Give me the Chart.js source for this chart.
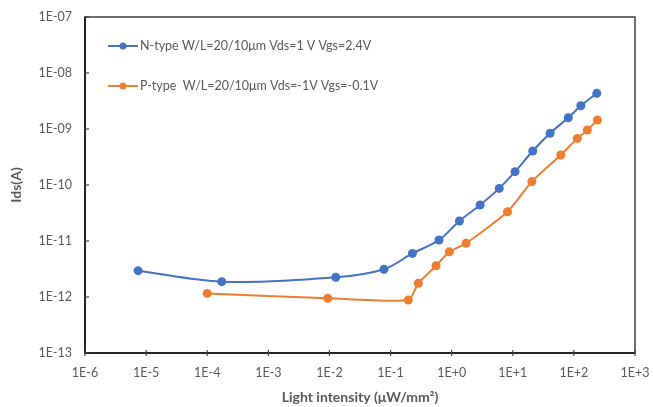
<!DOCTYPE html>
<html>
<head>
<meta charset="utf-8">
<script src="https://cdn.jsdelivr.net/npm/chart.js@4"></script>
<style>
  html, body { margin: 0; padding: 0; background: #fff; }
  #wrap { width: 653px; height: 407px; }
</style>
</head>
<body>
<div id="wrap"><canvas id="chart"></canvas></div>
<script>
// === Data ===
const nLabel = "N-type W/L=20/10\u03bcm Vds=1 V Vgs=2.4V";
const nX = [7.4e-6, 1.73e-4, 1.27e-2, 0.078, 0.228, 0.62, 1.34, 2.92, 6.0, 10.9, 21.2, 40.8, 81, 130, 237];
const nY = [2.95e-12, 1.88e-12, 2.25e-12, 3.13e-12, 6.0e-12, 1.04e-11, 2.28e-11, 4.4e-11, 8.7e-11, 1.73e-10, 4.05e-10, 8.4e-10, 1.59e-9, 2.6e-9, 4.33e-9];

const pLabel = "P-type  W/L=20/10\u03bcm Vds=-1V Vgs=-0.1V";
const pX = [1e-4, 9.4e-3, 0.195, 0.285, 0.556, 0.916, 1.72, 8.2, 20.5, 61, 114, 166, 243];
const pY = [1.16e-12, 9.5e-13, 8.8e-13, 1.76e-12, 3.62e-12, 6.4e-12, 9.1e-12, 3.33e-11, 1.15e-10, 3.43e-10, 6.8e-10, 9.6e-10, 1.45e-9];

// axis ticks (decades only)
const xTicks = [1e-6, 1e-5, 1e-4, 1e-3, 1e-2, 1e-1, 1e0, 1e1, 1e2, 1e3];
const xTickLabels = ["1E-6", "1E-5", "1E-4", "1E-3", "1E-2", "1E-1", "1E+0", "1E+1", "1E+2", "1E+3"];
const yTicks = [1e-13, 1e-12, 1e-11, 1e-10, 1e-9, 1e-8, 1e-7];
const yTickLabels = ["1E-13", "1E-12", "1E-11", "1E-10", "1E-09", "1E-08", "1E-07"];

const BLUE = "#4472c4";
const ORANGE = "#ed7d31";
const GREY = "#595959";

const toPoints = (xs, ys) => xs.map((x, i) => ({ x: x, y: ys[i] }));

// === Plot frame + small crossing tick marks ===
const framePlugin = {
  id: "frame",
  beforeDatasetsDraw(chart) {
    const { ctx, chartArea: a, scales } = chart;
    ctx.save();
    ctx.strokeStyle = "#3f3f3f";
    ctx.lineWidth = 1.5;
    ctx.strokeRect(a.left, a.top, a.right - a.left, a.bottom - a.top);
    ctx.strokeStyle = "#262626";
    ctx.lineWidth = 2;
    ctx.beginPath();
    ctx.moveTo(a.left, a.top);
    ctx.lineTo(a.left, a.bottom);
    ctx.lineTo(a.right, a.bottom);
    ctx.stroke();
    ctx.lineWidth = 1.2;
    ctx.strokeStyle = "#404040";
    xTicks.forEach(v => {
      const px = scales.x.getPixelForValue(v);
      ctx.beginPath();
      ctx.moveTo(px, a.bottom - 3);
      ctx.lineTo(px, a.bottom + 3);
      ctx.stroke();
    });
    yTicks.forEach(v => {
      const py = scales.y.getPixelForValue(v);
      ctx.beginPath();
      ctx.moveTo(a.left - 1, py);
      ctx.lineTo(a.left + 4, py);
      ctx.stroke();
    });
    ctx.restore();
  }
};

// === Legend drawn inside the plot area (top-left) ===
const insideLegend = {
  id: "insideLegend",
  afterDraw(chart) {
    const { ctx } = chart;
    const rows = [46, 86];
    ctx.save();
    ctx.font = "12.5px Lato, 'Open Sans', sans-serif";
    ctx.textBaseline = "middle";
    chart.data.datasets.forEach((ds, i) => {
      const y = rows[i];
      ctx.strokeStyle = ds.borderColor;
      ctx.lineWidth = 2;
      ctx.beginPath();
      ctx.moveTo(108, y);
      ctx.lineTo(138, y);
      ctx.stroke();
      ctx.fillStyle = ds.backgroundColor;
      ctx.beginPath();
      ctx.arc(123, y, 3.5, 0, Math.PI * 2);
      ctx.fill();
      ctx.fillStyle = GREY;
      ctx.fillText(ds.label, 140, y);
    });
    ctx.restore();
  }
};

new Chart(document.getElementById("chart").getContext("2d"), {
  type: "line",
  data: {
    datasets: [
      {
        label: nLabel,
        data: toPoints(nX, nY),
        borderColor: BLUE,
        backgroundColor: BLUE,
        borderWidth: 2,
        pointRadius: 4.5,
        pointBorderWidth: 0,
        tension: 0.35,
      },
      {
        label: pLabel,
        data: toPoints(pX, pY),
        borderColor: ORANGE,
        backgroundColor: ORANGE,
        borderWidth: 2,
        pointRadius: 4.5,
        pointBorderWidth: 0,
        tension: 0.2,
      },
    ],
  },
  options: {
    responsive: true,
    maintainAspectRatio: false,
    animation: false,
    layout: { padding: { top: 17, right: 18, left: 0, bottom: 0 } },
    plugins: { legend: { display: false }, tooltip: { enabled: false } },
    scales: {
      x: {
        type: "logarithmic",
        min: 1e-6,
        max: 1e3,
        afterBuildTicks: axis => { axis.ticks = xTicks.map(v => ({ value: v })); },
        afterFit: axis => { axis.height = 54; axis.paddingLeft = 0; axis.paddingRight = 0; },
        grid: { display: false, drawTicks: false },
        border: { display: false },
        ticks: {
          autoSkip: false,
          maxRotation: 0,
          padding: 12,
          color: GREY,
          font: { family: "Lato, 'Open Sans', sans-serif", size: 12.5 },
          callback: (v, i) => xTickLabels[i],
        },
        title: {
          display: true,
          text: "Light intensity (\u03bcW/mm\u00b2)",
          color: GREY,
          font: { family: "Lato, 'Open Sans', sans-serif", size: 14, weight: "bold" },
          padding: { top: 0, bottom: 1 },
        },
      },
      y: {
        type: "logarithmic",
        min: 1e-13,
        max: 1e-7,
        afterBuildTicks: axis => { axis.ticks = yTicks.map(v => ({ value: v })); },
        afterFit: axis => { axis.width = 85; axis.paddingTop = 0; axis.paddingBottom = 0; },
        grid: { display: false, drawTicks: false },
        border: { display: false },
        ticks: {
          autoSkip: false,
          padding: 13,
          color: GREY,
          font: { family: "Lato, 'Open Sans', sans-serif", size: 12.5 },
          callback: (v, i) => yTickLabels[i],
        },
        title: {
          display: true,
          text: "Ids(A)",
          color: GREY,
          font: { family: "Lato, 'Open Sans', sans-serif", size: 14, weight: "bold" },
          padding: { top: 8, bottom: 0 },
        },
      },
    },
  },
  plugins: [framePlugin, insideLegend],
});
</script>
</body>
</html>
